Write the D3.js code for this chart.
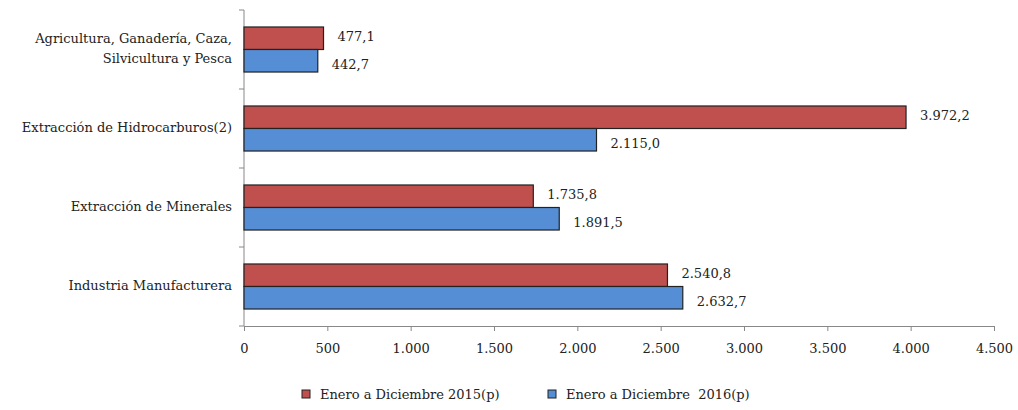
<!DOCTYPE html>
<html><head><meta charset="utf-8">
<script src="https://cdn.jsdelivr.net/npm/d3@7"></script>
<style>body{margin:0;background:#fff;} svg text{font-family:"DejaVu Serif" !important;}</style>
</head><body><svg id="c" width="1018" height="410"></svg>
<script>
const categories = [["Agricultura, Ganadería, Caza,","Silvicultura y Pesca"],["Extracción de Hidrocarburos(2)"],["Extracción de Minerales"],["Industria Manufacturera"]];
const catKeys = ["agri","hidro","min","ind"];
const series2015 = [477.1, 3972.2, 1735.8, 2540.8];
const series2016 = [442.7, 2115.0, 1891.5, 2632.7];
const seriesNames = ["Enero a Diciembre 2015(p)", "Enero a Diciembre  2016(p)"];
const seriesColors = ["#C0504D", "#558ED5"];
const xTicks = [0,500,1000,1500,2000,2500,3000,3500,4000,4500];

const svg = d3.select("#c");
const L = 244, R = 994, T = 10, B = 326;
const x = d3.scaleLinear().domain([0,4500]).range([L,R]);
const y = d3.scaleBand().domain(catKeys).range([T,B]);
const loc = d3.formatLocale({decimal:",",thousands:".",grouping:[3],currency:["",""]});
const fmt = loc.format(",.1f");
const fmtTick = loc.format(",d");
const FS = 13;

// axes
const xa = svg.append("g").attr("transform",`translate(0,${B})`)
  .call(d3.axisBottom(x).tickValues(xTicks).tickSize(5).tickSizeOuter(0).tickFormat(fmtTick).tickPadding(13));
xa.attr("font-family",null);
xa.select(".domain").attr("stroke","#888");
xa.selectAll(".tick line").attr("stroke","#888");
xa.selectAll("text").attr("font-size",FS).attr("fill","#222");

const ya = svg.append("g").attr("transform",`translate(${L},0)`);
ya.append("line").attr("x1",0).attr("x2",0).attr("y1",T).attr("y2",B).attr("stroke","#888");
const bounds = catKeys.map(k=>y(k)).concat([B]);
ya.selectAll("line.t").data(bounds).join("line").attr("class","t")
  .attr("x1",-5).attr("x2",0).attr("y1",d=>d).attr("y2",d=>d).attr("stroke","#888");

const bh = y.bandwidth()*0.285;
const data = catKeys.map((k,i)=>({k, cat:categories[i], v:[series2015[i], series2016[i]]}));

data.forEach(d=>{
  const c = y(d.k)+y.bandwidth()/2;
  d.v.forEach((v,j)=>{
    const y0 = j===0 ? c-bh : c;
    svg.append("rect").attr("x",x(0)).attr("y",y0).attr("width",x(v)-x(0)).attr("height",bh)
      .attr("fill",seriesColors[j]).attr("stroke","#222").attr("stroke-width",1.2);
    svg.append("text").attr("x",x(v)+14).attr("y",y0+bh/2+(j===0?-1:5)).attr("dominant-baseline","middle")
      .attr("font-size",FS).attr("fill","#222").text(fmt(v));
  });
  const lines = d.cat;
  const t = svg.append("text").attr("text-anchor","end").attr("font-size",FS).attr("fill","#222");
  lines.forEach((s,i)=>{
    t.append("tspan").attr("x",232).attr("y", c + (i-(lines.length-1)/2)*20).attr("dominant-baseline","middle").text(s);
  });
});

// legend
const lg = [{x:302, tx:320},{x:548, tx:566}];
seriesNames.forEach((n,i)=>{
  svg.append("rect").attr("x",lg[i].x).attr("y",390).attr("width",8).attr("height",8)
    .attr("fill",seriesColors[i]).attr("stroke","#222").attr("stroke-width",1);
  svg.append("text").attr("x",lg[i].tx).attr("y",395).attr("dominant-baseline","middle")
    .attr("font-size",FS).attr("fill","#222").style("white-space","pre").text(n);
});
</script></body></html>
